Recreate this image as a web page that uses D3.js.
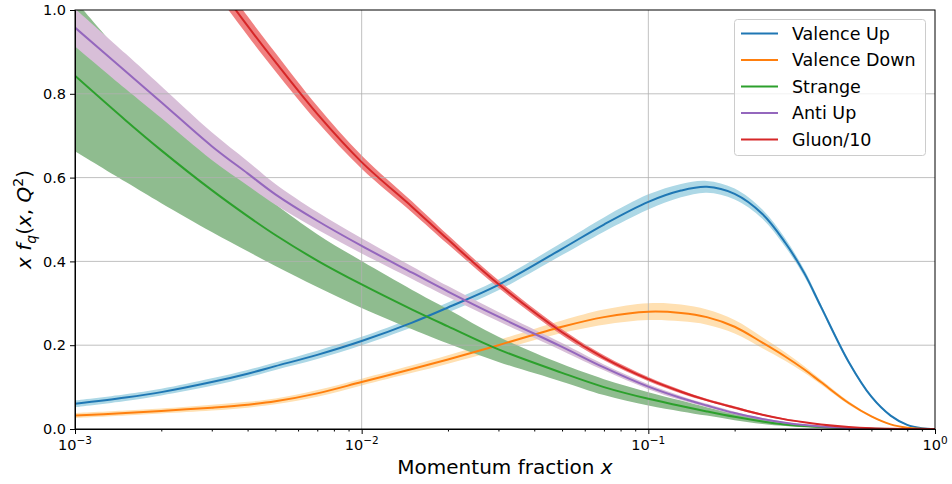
<!DOCTYPE html>
<html>
<head>
<meta charset="utf-8">
<script src="https://cdn.jsdelivr.net/npm/d3@7"></script>
<style>
  body { margin: 0; background: #fff; }
  svg { font-family: "DejaVu Sans", sans-serif; }
</style>
</head>
<body>
<svg id="chart" width="952" height="484"></svg>
<script>
// momentum fraction grid
var xGrid = [0.001, 0.0015, 0.002, 0.003, 0.004, 0.005, 0.007, 0.01, 0.015, 0.02, 0.03, 0.05, 0.07,
    0.1, 0.13, 0.16, 0.2, 0.25, 0.3, 0.35, 0.4, 0.5, 0.6, 0.7, 0.8, 0.9, 1.0]

var valenceUp = [0.060, 0.075, 0.088, 0.112, 0.132, 0.150, 0.177, 0.210, 0.254, 0.290, 0.344, 0.430, 0.488,
    0.542, 0.569, 0.578, 0.561, 0.513, 0.445, 0.372, 0.292, 0.160, 0.077, 0.032, 0.010, 0.002, 0.0]
var valenceUpErr = [0.008, 0.008, 0.008, 0.009, 0.009, 0.009, 0.010, 0.010, 0.011, 0.012, 0.013, 0.015, 0.017,
    0.018, 0.016, 0.014, 0.013, 0.011, 0.010, 0.008, 0.006, 0.004, 0.003, 0.002, 0.001, 0.0005, 0]

var valenceDown = [0.032, 0.038, 0.043, 0.051, 0.058, 0.066, 0.085, 0.112, 0.143, 0.166, 0.200, 0.244, 0.267,
    0.280, 0.277, 0.267, 0.244, 0.206, 0.173, 0.142, 0.112, 0.062, 0.030, 0.011, 0.003, 0.0005, 0]
var valenceDownErr = [0.006, 0.006, 0.006, 0.007, 0.007, 0.007, 0.008, 0.008, 0.009, 0.010, 0.012, 0.015, 0.018,
    0.020, 0.020, 0.018, 0.016, 0.013, 0.010, 0.008, 0.006, 0.004, 0.002, 0.001, 0.0005, 0, 0]

var strange = [0.843, 0.737, 0.665, 0.570, 0.508, 0.463, 0.402, 0.345, 0.285, 0.245, 0.190, 0.134, 0.100,
    0.072, 0.055, 0.042, 0.029, 0.018, 0.011, 0.007, 0.0045, 0.0018, 0.0007, 0.0002, 0, 0, 0]
var strangeErr = [0.18, 0.147, 0.126, 0.100, 0.084, 0.074, 0.063, 0.056, 0.047, 0.041, 0.030, 0.021, 0.019,
    0.016, 0.013, 0.010, 0.008, 0.006, 0.004, 0.003, 0.002, 0.001, 0, 0, 0, 0, 0]

var antiUp = [0.958, 0.854, 0.780, 0.675, 0.610, 0.560, 0.497, 0.437, 0.373, 0.328, 0.268, 0.196, 0.147,
    0.101, 0.074, 0.056, 0.038, 0.024, 0.015, 0.0095, 0.006, 0.0022, 0.0007, 0.0002, 0, 0, 0]
var antiUpErr = [0.045, 0.042, 0.038, 0.033, 0.029, 0.025, 0.021, 0.018, 0.015, 0.013, 0.011, 0.009, 0.007,
    0.006, 0.005, 0.004, 0.003, 0.002, 0.002, 0.001, 0.001, 0, 0, 0, 0, 0, 0]

var gluon10 = [1.65, 1.42, 1.27, 1.08, 0.962, 0.876, 0.752, 0.637, 0.530, 0.452, 0.346, 0.231, 0.170,
    0.119, 0.089, 0.069, 0.051, 0.034, 0.023, 0.016, 0.011, 0.005, 0.002, 0.0007, 0.0002, 0, 0]
var gluon10Err = [0.026, 0.025, 0.025, 0.024, 0.023, 0.022, 0.019, 0.016, 0.013, 0.011, 0.009, 0.007, 0.006,
    0.005, 0.004, 0.003, 0.003, 0.002, 0.002, 0.001, 0.001, 0, 0, 0, 0, 0, 0]

var seriesNames = ["Valence Up", "Valence Down", "Strange", "Anti Up", "Gluon/10"]
var lineColors = ["#1f77b4", "#ff7f0e", "#2ca02c", "#9467bd", "#d62728"]
var bandColors = ["lightblue", "#ffe0b2", "darkseagreen", "thistle", "lightcoral"]

var yTicks = [0, 0.2, 0.4, 0.6, 0.8, 1.0]
var xMajor = [1e-3, 1e-2, 1e-1, 1]
var xExponents = ["\u22123", "\u22122", "\u22121", "0"]

function drawChart() {
    "use strict";

    var pLeft = 75, pRight = 935, pTop = 10, pBottom = 429

    var svg = d3.select("#chart")

    var x = d3.scaleLog().domain([1e-3, 1]).range([pLeft, pRight])
    var y = d3.scaleLinear().domain([0, 1]).range([pBottom, pTop])

    var series = [
        [valenceUp, valenceUpErr],
        [valenceDown, valenceDownErr],
        [strange, strangeErr],
        [antiUp, antiUpErr],
        [gluon10, gluon10Err]
    ].map(function(s, i) {
        return {
            name: seriesNames[i],
            line: lineColors[i],
            band: bandColors[i],
            points: xGrid.map(function(xv, j) {
                return {x: xv, v: s[0][j], e: s[1][j]}
            })
        }
    })

    svg.append("defs").append("clipPath").attr("id", "plotclip")
        .append("rect")
        .attr("x", pLeft).attr("y", pTop)
        .attr("width", pRight - pLeft).attr("height", pBottom - pTop)

    var plot = svg.append("g").attr("clip-path", "url(#plotclip)")

    var curve = d3.curveCatmullRom.alpha(0.5)

    var area = d3.area()
        .curve(curve)
        .x(function(d) { return x(d.x) })
        .y0(function(d) { return y(d.v - d.e) })
        .y1(function(d) { return y(d.v + d.e) })

    var line = d3.line()
        .curve(curve)
        .x(function(d) { return x(d.x) })
        .y(function(d) { return y(d.v) })

    // bands first, like fill_between
    series.forEach(function(s) {
        plot.append("path")
            .attr("d", area(s.points))
            .attr("fill", s.band)
            .attr("stroke", "none")
    })

    // grid sits above fills, below lines
    var grid = plot.append("g")
    grid.selectAll(".gx").data([1e-2, 1e-1]).enter().append("line")
        .attr("x1", function(d) { return x(d) }).attr("x2", function(d) { return x(d) })
        .attr("y1", pTop).attr("y2", pBottom)
        .attr("stroke", "#b0b0b0").attr("stroke-width", 0.8)
    grid.selectAll(".gy").data([0.2, 0.4, 0.6, 0.8]).enter().append("line")
        .attr("x1", pLeft).attr("x2", pRight)
        .attr("y1", function(d) { return y(d) }).attr("y2", function(d) { return y(d) })
        .attr("stroke", "#b0b0b0").attr("stroke-width", 0.8)

    series.forEach(function(s) {
        plot.append("path")
            .attr("d", line(s.points))
            .attr("fill", "none")
            .attr("stroke", s.line)
            .attr("stroke-width", 2)
    })

    // axes
    svg.append("g")
        .attr("transform", "translate(0," + pBottom + ")")
        .call(d3.axisBottom(x).tickValues(xMajor).tickSize(5).tickFormat(""))
    var minor = []
    ;[1e-3, 1e-2, 1e-1].forEach(function(d) {
        for (var k = 2; k < 10; k++) minor.push(d * k)
    })
    svg.append("g")
        .attr("transform", "translate(0," + pBottom + ")")
        .call(d3.axisBottom(x).tickValues(minor).tickSize(2.5).tickFormat(""))
        .select(".domain").remove()

    xMajor.forEach(function(d, i) {
        var t = svg.append("text")
            .attr("x", x(d))
            .attr("y", 450)
            .attr("text-anchor", "middle")
            .attr("font-size", 14.5)
            .attr("fill", "#000")
        t.append("tspan").text("10")
        t.append("tspan").attr("dy", -6).attr("font-size", 10.5).text(xExponents[i])
    })

    svg.append("g")
        .attr("transform", "translate(" + pLeft + ",0)")
        .call(d3.axisLeft(y).tickValues(yTicks).tickSize(5).tickPadding(4).tickFormat(d3.format(".1f")))
        .selectAll("text")
        .attr("font-size", 14.5)
        .attr("font-family", "DejaVu Sans")
        .attr("fill", "#000")

    svg.selectAll(".domain").attr("stroke", "#000")
    svg.selectAll(".tick line").attr("stroke", "#000")

    // frame
    svg.append("rect")
        .attr("x", pLeft).attr("y", pTop)
        .attr("width", pRight - pLeft).attr("height", pBottom - pTop)
        .attr("fill", "none").attr("stroke", "#000").attr("stroke-width", 1)

    // axis labels
    var xl = svg.append("text")
        .attr("x", (pLeft + pRight) / 2)
        .attr("y", 474)
        .attr("text-anchor", "middle")
        .attr("font-size", 20)
    xl.append("tspan").text("Momentum fraction ")
    xl.append("tspan").attr("font-style", "italic").text("x")

    var yl = svg.append("text")
        .attr("transform", "translate(31," + ((pTop + pBottom) / 2) + ") rotate(-90)")
        .attr("text-anchor", "middle")
        .attr("font-size", 20)
    yl.append("tspan").attr("font-style", "italic").text("x f")
    yl.append("tspan").attr("font-style", "italic").attr("font-size", 14).attr("dy", 5).text("q")
    yl.append("tspan").attr("dy", -5).text("(")
    yl.append("tspan").attr("font-style", "italic").text("x")
    yl.append("tspan").text(", ")
    yl.append("tspan").attr("font-style", "italic").text("Q")
    yl.append("tspan").attr("font-size", 14).attr("dy", -8).text("2")
    yl.append("tspan").attr("dy", 8).text(")")

    // legend
    var lg = svg.append("g")
    lg.append("rect")
        .attr("x", 734.5).attr("y", 19.5)
        .attr("width", 191).attr("height", 136)
        .attr("rx", 3)
        .attr("fill", "#fff").attr("fill-opacity", 0.8)
        .attr("stroke", "#cccccc")
    series.forEach(function(s, i) {
        var cy = 33.5 + i * 26.5
        lg.append("line")
            .attr("x1", 741).attr("x2", 778)
            .attr("y1", cy).attr("y2", cy)
            .attr("stroke", s.line).attr("stroke-width", 2)
        lg.append("text")
            .attr("x", 792).attr("y", cy)
            .attr("dy", "0.36em")
            .attr("font-size", 17.5)
            .text(s.name)
    })
}

drawChart()
</script>
</body>
</html>
